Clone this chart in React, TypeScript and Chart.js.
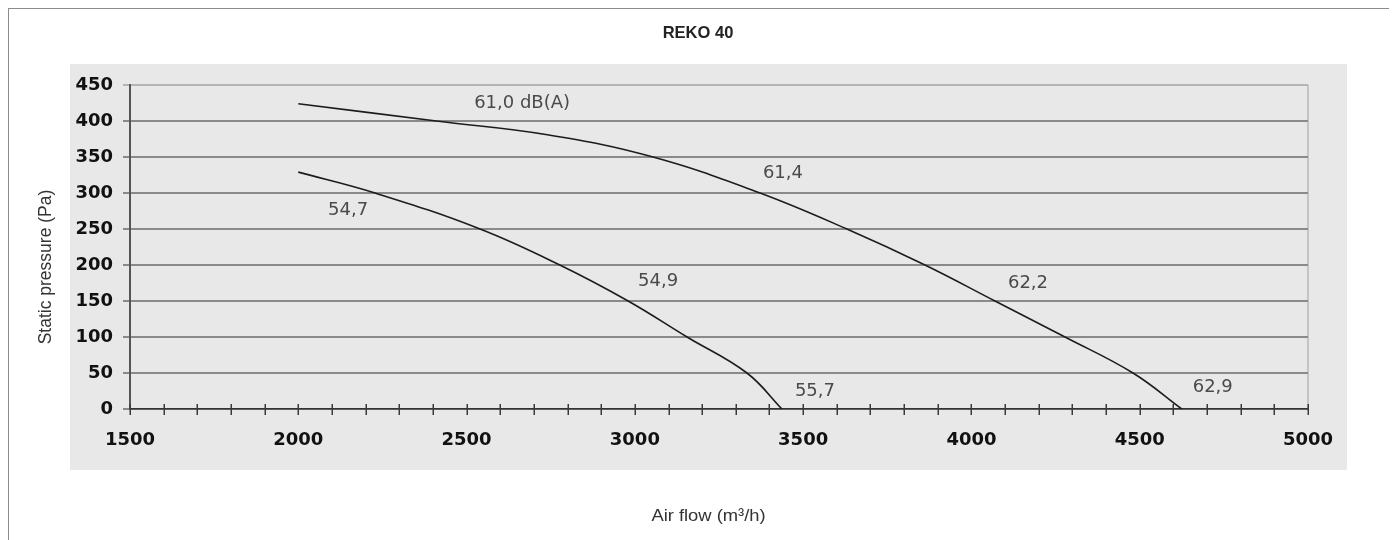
import React, { useEffect, useRef } from 'react';
import { Chart, registerables } from 'chart.js';

Chart.register(...registerables);

// ---- data ----
const chartTitle = 'REKO 40';
const yAxisTitle = 'Static pressure (Pa)';
const xAxisTitle = 'Air flow (m³/h)';

const upperFlow = [2000, 2410, 2740, 3054, 3372, 3630, 3862, 4070, 4278, 4480, 4625];
const upperPressure = [424, 400, 381, 350, 300, 250, 200, 150, 100, 50, 0];

const lowerFlow = [2000, 2228, 2540, 2777, 2980, 3155, 3333, 3437];
const lowerPressure = [329, 300, 250, 200, 150, 100, 50, 0];

const noteTexts = ['61,0 dB(A)', '61,4', '62,2', '62,9', '54,7', '54,9', '55,7'];
const noteFlow = [2665, 3440, 4168, 4717, 2148, 3069, 3535];
const notePressure = [424, 328, 174, 30, 276, 177, 24];

const xTickLabels = ['1500', '2000', '2500', '3000', '3500', '4000', '4500', '5000'];
const yTickLabels = ['0', '50', '100', '150', '200', '250', '300', '350', '400', '450'];

const X_MIN = 1500;
const X_MAX = 5000;
const Y_MIN = 0;
const Y_MAX = 450;

const toPoints = (xs: number[], ys: number[]) => xs.map((x, i) => ({ x, y: ys[i] }));

const decorPlugin = {
  id: 'decor',
  beforeDraw(chart: any) {
    const { ctx, chartArea: ca } = chart;
    ctx.save();
    ctx.fillStyle = '#e8e8e8';
    const l = ca.left - 60;
    const t = ca.top - 21;
    const r = ca.right + 39;
    const b = ca.bottom + 61;
    ctx.fillRect(l, t, r - l, b - t);
    ctx.restore();
  },
  afterDraw(chart: any) {
    const { ctx, chartArea: ca, scales } = chart;
    const xs = scales.x;
    const ys = scales.y;
    ctx.save();
    // minor ticks crossing the x axis
    ctx.strokeStyle = '#3a3a3a';
    ctx.lineWidth = 1.5;
    xs.ticks.forEach((t: any) => {
      const px = Math.round(xs.getPixelForValue(t.value)) + 0.25;
      ctx.beginPath();
      ctx.moveTo(px, ca.bottom - 5);
      ctx.lineTo(px, ca.bottom + 6);
      ctx.stroke();
    });
    // curve notes
    ctx.font = '18px "DejaVu Sans"';
    ctx.fillStyle = '#4a4a4a';
    ctx.textAlign = 'center';
    ctx.textBaseline = 'middle';
    noteTexts.forEach((txt, i) => {
      ctx.fillText(txt, xs.getPixelForValue(noteFlow[i]), ys.getPixelForValue(notePressure[i]));
    });
    // titles
    const grayL = ca.left - 60;
    const grayR = ca.right + 39;
    const grayT = ca.top - 21;
    const grayB = ca.bottom + 61;
    ctx.fillStyle = '#222';
    ctx.font = 'bold 16.5px "Liberation Sans", Arial, sans-serif';
    ctx.fillText(chartTitle, chart.width / 2 - 5, 24);

    ctx.fillStyle = '#333';
    ctx.font = '17px "Liberation Sans", Arial, sans-serif';
    ctx.save();
    ctx.translate((grayL + grayR) / 2, grayB + 46);
    ctx.scale(1.08, 1);
    ctx.fillText(xAxisTitle, 0, 0);
    ctx.restore();

    ctx.save();
    ctx.translate(37, (grayT + grayB) / 2);
    ctx.rotate(-Math.PI / 2);
    ctx.font = '17.5px "Liberation Sans", Arial, sans-serif';
    ctx.fillText(yAxisTitle, 0, 0);
    ctx.restore();

    ctx.restore();
  },
};

export default function App() {
  const canvasRef = useRef<HTMLCanvasElement | null>(null);

  useEffect(() => {
    document.documentElement.style.overflow = 'hidden';
    const canvas = canvasRef.current;
    if (!canvas) return;
    const curveStyle = {
      borderColor: '#1c1c1c',
      borderWidth: 1.6,
      pointRadius: 0,
      tension: 0.4,
      fill: false,
    };
    const chart = new Chart(canvas, {
      type: 'line',
      data: {
        datasets: [
          { label: 'upper', data: toPoints(upperFlow, upperPressure), ...curveStyle },
          { label: 'lower', data: toPoints(lowerFlow, lowerPressure), ...curveStyle },
        ],
      },
      options: {
        responsive: false,
        animation: false,
        events: [],
        layout: { padding: { top: 76, right: 89, left: 0, bottom: 0 } },
        plugins: {
          legend: { display: false },
          title: { display: false },
          tooltip: { enabled: false },
        },
        scales: {
          x: {
            type: 'linear',
            min: X_MIN,
            max: X_MAX,
            afterFit: (s: any) => {
              s.height = 131;
            },
            grid: {
              display: true,
              drawOnChartArea: true,
              drawTicks: false,
              lineWidth: 2,
              color: (c: any) => (c.tick && c.tick.value === X_MAX ? '#c4c4c4' : 'rgba(0,0,0,0)'),
            },
            border: { display: true, color: '#333', width: 1.5 },
            ticks: {
              stepSize: 100,
              autoSkip: false,
              maxRotation: 0,
              padding: 21,
              color: '#111',
              font: { family: '"DejaVu Sans"', size: 18, weight: 'bold' },
              callback: (v: any) => {
                const s = String(v);
                return xTickLabels.includes(s) ? s : '';
              },
            },
          },
          y: {
            type: 'linear',
            min: Y_MIN,
            max: Y_MAX,
            afterFit: (s: any) => {
              s.width = 121;
            },
            grid: {
              display: true,
              drawOnChartArea: true,
              drawTicks: true,
              tickLength: 7,
              lineWidth: 2,
              color: (c: any) => (c.tick && c.tick.value === Y_MAX ? '#b4b4b4' : '#8a8a8a'),
            },
            border: { display: true, color: '#555', width: 2 },
            ticks: {
              stepSize: 50,
              padding: 10,
              color: '#111',
              font: { family: '"DejaVu Sans"', size: 18, weight: 'bold' },
              callback: (v: any) => {
                const s = String(v);
                return yTickLabels.includes(s) ? s : '';
              },
            },
          },
        },
      },
      plugins: [decorPlugin],
    } as any);
    return () => {
      chart.destroy();
    };
  }, []);

  return (
    <div
      style={{
        position: 'relative',
        borderLeft: '1px solid #8c8c8c',
        borderTop: '1px solid #8c8c8c',
        marginRight: -8,
        height: 531,
        background: '#fff',
      }}
    >
      <canvas ref={canvasRef} width={1388} height={531} style={{ display: 'block' }} />
    </div>
  );
}
